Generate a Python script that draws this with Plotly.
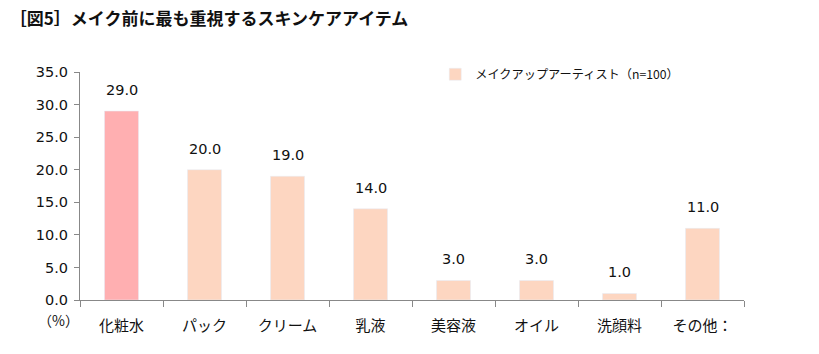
import plotly.graph_objects as go

categories = ["化粧水", "パック", "クリーム", "乳液", "美容液", "オイル", "洗顔料", "その他："]
values = [29.0, 20.0, 19.0, 14.0, 3.0, 3.0, 1.0, 11.0]
series_name = "メイクアップアーティスト（n=100）"
title = "［図5］メイク前に最も重視するスキンケアアイテム"

FONT = "Noto Sans CJK JP"
NUMFONT = "DejaVu Sans"
PINK = "#FFAFB1"
PEACH = "#FDD6C1"

fig = go.Figure()
fig.add_trace(go.Bar(
    x=categories[:1], y=values[:1], marker_color=PINK, showlegend=False, width=0.41,
))
fig.add_trace(go.Bar(
    x=categories[1:], y=values[1:], marker_color=PEACH, name=series_name, width=0.41,
))
for c, v in zip(categories, values):
    fig.add_annotation(x=c, y=v, text=f"{v:.1f}", showarrow=False, yanchor="bottom",
                       yshift=11, font=dict(size=14.5, family=NUMFONT, color="#111"))

fig.update_layout(
    width=819, height=354,
    margin=dict(l=80, r=75, t=72, b=54),
    paper_bgcolor="white", plot_bgcolor="white",
    barmode="overlay",
    font=dict(family=FONT, size=13, color="#111"),
    title=dict(text=f"<b>{title}</b>", x=0.012, xanchor="left", y=0.945, yanchor="middle",
               font=dict(size=17, family=FONT, color="#111")),
    legend=dict(x=0.535, y=0.99, xanchor="left", yanchor="middle", orientation="h",
                font=dict(size=12.2, family=FONT), bgcolor="rgba(0,0,0,0)",
                itemwidth=30),
    xaxis=dict(categoryorder="array", categoryarray=categories, showline=True,
               linecolor="#888", linewidth=1, ticks="outside", tickson="boundaries",
               ticklen=6, tickcolor="#888", tickfont=dict(size=15, family=FONT),
               ticklabelstandoff=12, showgrid=False),
    yaxis=dict(range=[0, 35], dtick=5, tickformat=".1f", showline=True,
               linecolor="#888", linewidth=1, ticks="outside", ticklen=5,
               tickcolor="#888", showgrid=False, zeroline=False, ticklabelstandoff=3,
               tickfont=dict(size=14.5, family=NUMFONT)),
)
fig.add_annotation(text="（%）", xref="paper", yref="paper", x=(58 - 80) / 664,
                   y=-20 / 228, xanchor="center", yanchor="middle", showarrow=False,
                   font=dict(size=14, family=FONT))
fig.write_html("out.html")
